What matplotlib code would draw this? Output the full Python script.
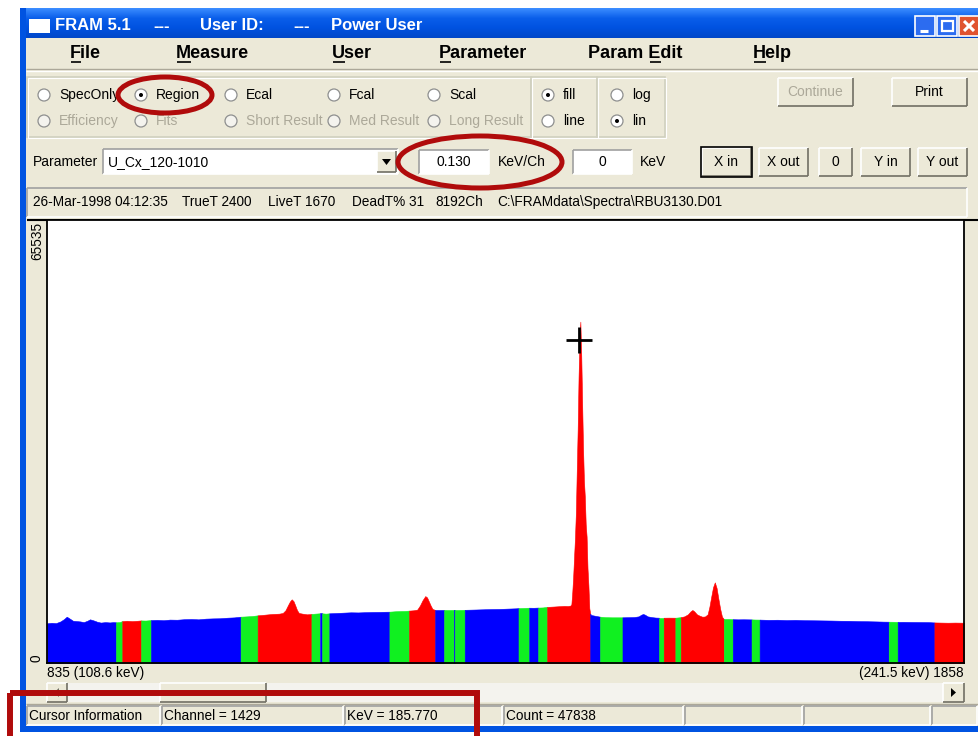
import numpy as np
import matplotlib.pyplot as plt
from matplotlib.patches import Rectangle, Ellipse, Circle, Polygon

plt.rcParams['font.family'] = ['Liberation Sans', 'DejaVu Sans']

W, H = 979, 736

# spectrum (channel, counts)
channels = [835, 840, 845, 850, 854, 857, 860, 864, 868, 872, 876, 880, 883, 887, 891, 895,
            900, 905, 909, 912, 916, 919, 924, 930, 936, 940, 945, 951, 958, 965, 972, 980,
            988, 996, 1004, 1012, 1020, 1028, 1036, 1044, 1051, 1058, 1064, 1070, 1078, 1086,
            1094, 1098, 1101, 1104, 1106, 1108, 1110, 1112, 1114, 1116, 1120, 1125, 1130, 1134,
            1139, 1142, 1146, 1150, 1158, 1166, 1174, 1182, 1190, 1198, 1206, 1212, 1217, 1223,
            1230, 1234, 1239, 1244, 1248, 1251, 1254, 1257, 1259, 1261, 1263, 1265, 1268, 1273,
            1278, 1283, 1289, 1290, 1295, 1301, 1310, 1320, 1330, 1340, 1350, 1358, 1361, 1367,
            1373, 1378, 1383, 1388, 1393, 1400, 1406, 1412, 1416, 1419, 1420, 1421, 1422, 1423,
            1424, 1425, 1426, 1427, 1428, 1429, 1430, 1431, 1432, 1433, 1434, 1435, 1436, 1437,
            1438, 1439, 1440, 1441, 1442, 1446, 1452, 1458, 1465, 1471, 1477, 1484, 1490, 1495,
            1498, 1500, 1502, 1505, 1510, 1514, 1518, 1523, 1529, 1536, 1542, 1546, 1550, 1553,
            1555, 1557, 1560, 1563, 1566, 1569, 1572, 1574, 1576, 1578, 1580, 1582, 1584, 1586,
            1588, 1590, 1595, 1600, 1606, 1612, 1621, 1625, 1630, 1640, 1650, 1660, 1670, 1680,
            1690, 1700, 1710, 1720, 1730, 1740, 1750, 1760, 1768, 1774, 1779, 1784, 1790, 1800,
            1810, 1818, 1825, 1832, 1840, 1848, 1858]
counts = [5870, 5950, 5900, 6150, 6500, 6850, 6600, 6250, 6200, 6150, 6050, 6250, 6460, 6300, 6100, 5980,
          6050, 6000, 6050, 6020, 6050, 6200, 6250, 6200, 6250, 6300, 6280, 6350, 6380, 6330, 6420, 6400,
          6480, 6510, 6460, 6560, 6600, 6620, 6700, 6750, 6850, 6900, 6950, 7050, 7150, 7250,
          7300, 7400, 7800, 8600, 9100, 9420, 9150, 8500, 7800, 7400, 7300, 7200, 7250, 7300,
          7350, 7350, 7300, 7350, 7400, 7450, 7500, 7480, 7520, 7550, 7560, 7580, 7590, 7650,
          7690, 7700, 7750, 7800, 7900, 8500, 9300, 9900, 9700, 9100, 8500, 8000, 7850, 7840,
          7850, 7840, 7860, 7850, 7850, 7870, 7900, 7940, 7980, 8000, 8050, 8090, 8120, 8150,
          8180, 8170, 8200, 8220, 8300, 8350, 8400, 8450, 8430, 8500, 8700, 10500, 12800, 15700,
          18500, 22200, 28500, 34500, 42300, 47838, 50500, 45600, 38500, 31800, 27000, 24600, 20500, 18700,
          14000, 11500, 8100, 7300, 7100, 7000, 6850, 6780, 6760, 6760, 6760, 6780, 6800, 6900,
          7150, 7250, 7150, 6900, 6780, 6720, 6700, 6700, 6710, 6700, 6780, 6900, 7200, 7650,
          7840, 7650, 7200, 7000, 6850, 6880, 7200, 8330, 9800, 11200, 11930, 11100, 9500, 8000,
          6850, 6510, 6520, 6480, 6460, 6470, 6450, 6430, 6420, 6380, 6400, 6350, 6380, 6330,
          6320, 6300, 6280, 6250, 6240, 6200, 6180, 6150, 6120, 6110, 6100, 6080, 6090, 6070,
          6060, 6050, 6000, 5980, 5960, 5980, 5960]

# analysis regions: edges and colour code (b = background, g = ?, r = peak)
region_edges = [835, 912, 919, 940, 951, 1051, 1070, 1130, 1139, 1142, 1150, 1217, 1239, 1268,
                1278, 1289, 1290, 1301, 1361, 1373, 1383, 1393, 1441, 1452, 1477, 1518, 1523,
                1536, 1542, 1590, 1600, 1621, 1630, 1774, 1784, 1825, 1858]
region_codes = ['b', 'g', 'r', 'g', 'b', 'g', 'r', 'g', 'b', 'g', 'b', 'g', 'r', 'b', 'g', 'b',
                'g', 'b', 'g', 'b', 'g', 'r', 'b', 'g', 'b', 'g', 'r', 'g', 'r', 'g', 'b', 'g',
                'b', 'g', 'b', 'r']

cursor_channel = 1429
cursor_count = 47838
ch_lo, ch_hi = 835, 1858
y_full = 65535

menu_items = ['File', 'Measure', 'User', 'Parameter', 'Param Edit', 'Help']
menu_x = [70, 176, 332, 439, 588, 753]
info_items = ['26-Mar-1998 04:12:35', 'TrueT 2400', 'LiveT 1670', 'DeadT% 31', '8192Ch',
              'C:\\FRAMdata\\Spectra\\RBU3130.D01']
info_x = [33, 182, 268, 352, 435, 497]

BG = '#ECE9D8'
DIS = '#ACA899'
fill_colors = {'b': '#0000FF', 'g': '#10F020', 'r': '#FF0000'}

fig = plt.figure(figsize=(W / 100, H / 100), dpi=100)
ui = fig.add_axes([0, 0, 1, 1])
ui.set_xlim(0, W)
ui.set_ylim(H, 0)
ui.axis('off')


def rect(x0, y0, x1, y1, fc, ec='none', lw=0, z=1):
    ui.add_patch(Rectangle((x0, y0), x1 - x0, y1 - y0, fc=fc, ec=ec, lw=lw, zorder=z))


def line(xs, ys, c, lw=1, z=3):
    ui.plot(xs, ys, color=c, lw=lw, zorder=z, solid_capstyle='butt')


def txt(x, y, s, size=10, c='black', ha='left', weight='normal', z=5, **kw):
    ui.text(x, y, s, fontsize=size, color=c, ha=ha, va='center', fontweight=weight, zorder=z, **kw)


def raised(x0, y0, x1, y1, default=False):
    rect(x0, y0, x1, y1, BG, z=2)
    line([x0, x1], [y0, y0], 'white', 1.2)
    line([x0, x0], [y0, y1], 'white', 1.2)
    line([x0, x1], [y1, y1], '#716F64', 1.2)
    line([x1, x1], [y0, y1], '#716F64', 1.2)
    if default:
        rect(x0 - 1, y0 - 1, x1 + 1, y1 + 1, 'none', ec='black', lw=1.2, z=4)


def sunken(x0, y0, x1, y1, fc='white'):
    rect(x0, y0, x1, y1, fc, z=2)
    line([x0, x1], [y0, y0], '#A0A0A0', 1.2)
    line([x0, x0], [y0, y1], '#A0A0A0', 1.2)
    line([x0, x1], [y1, y1], 'white', 1.2)
    line([x1, x1], [y0, y1], 'white', 1.2)


def button(x0, y0, x1, y1, label, enabled=True, default=False):
    raised(x0, y0, x1, y1, default)
    txt((x0 + x1) / 2, (y0 + y1) / 2, label, c='black' if enabled else DIS, ha='center')


def radio(x, y, label, on=False, enabled=True):
    ui.add_patch(Circle((x, y), 6, fc='white' if enabled else '#F4F3EE', ec='#8E8F8F', lw=0.9, zorder=3))
    if on:
        ui.add_patch(Circle((x, y), 2, fc='black', ec='none', zorder=4))
    txt(x + 15, y, label, c='black' if enabled else DIS)


def groupbox(x0, y0, x1, y1):
    rect(x0, y0, x1, y1, 'none', ec='#D0D0BF', lw=1.2, z=2)
    rect(x0 + 1, y0 + 1, x1 + 1, y1 + 1, 'none', ec='white', lw=0.8, z=2)


# window body
rect(20, 8, W, 732, BG, z=0)
# title bar gradient
grad = np.linspace(0, 1, 30).reshape(-1, 1)
ui.imshow(grad, extent=[20, W, 38, 8], cmap=plt.matplotlib.colors.LinearSegmentedColormap.from_list(
    'xp', ['#3A8CFF', '#0A5EEA', '#0052E0', '#0147C9']), aspect='auto', zorder=1)
rect(29, 19, 50, 33, 'white', z=3)
title_parts = ['FRAM 5.1', '---', 'User ID:', '---', 'Power User']
title_x = [55, 153, 200, 293, 331]
for s, x in zip(title_parts, title_x):
    txt(x, 26, s, size=12, c='white', weight='bold')
# caption buttons
for x0, fc in [(915, '#2C6CF0'), (937, '#2C6CF0'), (959, '#E0532F')]:
    ui.add_patch(Rectangle((x0, 16), 20, 20, fc=fc, ec='white', lw=1.2, zorder=3))
line([920, 928], [31, 31], 'white', 2.2, z=4)
rect(942, 21, 953, 31, 'none', ec='white', lw=1.6, z=4)
line([964, 974], [21, 31], 'white', 2.2, z=4)
line([964, 974], [31, 21], 'white', 2.2, z=4)

# menu
underline_w = [11, 15, 13, 12, 12, 13]
for s, x, uw in zip(menu_items, menu_x, underline_w):
    txt(x, 53, s, size=13, weight='bold')
    ux = x + 61 if s == 'Param Edit' else x
    line([ux + 1, ux + uw], [62, 62], 'black', 1.2)
line([26, W], [69, 69], '#ACA899', 1)
line([26, W], [70.5, 70.5], 'white', 1)

# option groups
groupbox(27, 77, 531, 137)
groupbox(531, 77, 597, 137)
groupbox(597, 77, 665, 137)
row1 = ['SpecOnly', 'Region', 'Ecal', 'Fcal', 'Scal']
row2 = ['Efficiency', 'Fits', 'Short Result', 'Med Result', 'Long Result']
radio_x = [44, 141, 231, 334, 434]
for i, x in enumerate(radio_x):
    radio(x, 95, row1[i], on=(row1[i] == 'Region'))
    radio(x, 121, row2[i], enabled=False)
radio(548, 95, 'fill', on=True)
radio(548, 121, 'line')
radio(617, 95, 'log')
radio(617, 121, 'lin', on=True)
button(778, 78, 853, 106, 'Continue', enabled=False)
button(892, 78, 967, 106, 'Print')

# parameter row
txt(33, 162, 'Parameter')
sunken(103, 149, 398, 174)
txt(108, 162, 'U_Cx_120-1010')
raised(377, 151, 396, 172)
ui.add_patch(Polygon([[382, 159], [391, 159], [386.5, 165]], closed=True, fc='black', zorder=5))
sunken(419, 150, 489, 174)
txt(454, 162, '0.130', ha='center')
txt(498, 162, 'KeV/Ch')
sunken(573, 150, 632, 174)
txt(602, 162, '0', ha='center')
txt(640, 162, 'KeV')
for (x0, x1), s in zip([(702, 751), (759, 808), (819, 852), (861, 910), (918, 967)],
                       ['X in', 'X out', '0', 'Y in', 'Y out']):
    button(x0, 148, x1, 176, s, default=(s == 'X in'))

# info bar
sunken(27, 188, 967, 217, fc=BG)
for s, x in zip(info_items, info_x):
    txt(x, 202, s, size=9.8)

# plot frame
line([27, W], [220, 220], 'black', 1.5)
txt(37, 222, '65535', size=9.8, rotation=90, ha='center')
ui.texts[-1].set_va('top')
txt(37, 658, '0', size=9.8, rotation=90, ha='center')
txt(47, 673, '835 (108.6 keV)', size=9.8)
txt(964, 673, '(241.5 keV) 1858', size=9.8, ha='right')

# scrollbar
rect(47, 683, 964, 702, '#F4F3EE', z=1)
raised(47, 683, 67, 702)
raised(160, 683, 266, 702)
raised(943, 683, 964, 702)
ui.add_patch(Polygon([[951, 688], [951, 697], [956, 692.5]], closed=True, fc='black', zorder=5))
ui.add_patch(Polygon([[59, 688], [59, 697], [54, 692.5]], closed=True, fc='#716F64', zorder=5))

# status bar
line([26, W], [704, 704], '#ACA899', 1)
status_x = [27, 162, 345, 504, 685, 804, 932, 979]
status_txt = ['Cursor Information', 'Channel = 1429', 'KeV = 185.770', 'Count = 47838', '', '', '']
for i, s in enumerate(status_txt):
    sunken(status_x[i], 706, status_x[i + 1] - 2, 725, fc=BG)
    if s:
        txt(status_x[i] + 2, 715.5, s, size=9.8)

# blue window frame (drawn last so nothing bleeds over it)
rect(20, 8, 26, 732, '#0053E1', z=6)
rect(20, 726, W, 732, '#0053E1', z=6)

# annotations
ui.add_patch(Ellipse((165, 95), 94, 36, fc='none', ec='#B00B0B', lw=3.6, zorder=8))
ui.add_patch(Ellipse((480, 162), 164, 52, fc='none', ec='#B00B0B', lw=3.6, zorder=8))
ui.add_patch(Rectangle((10, 693), 467, 60, fc='none', ec='#B00B0B', lw=4.3, zorder=8))

# spectrum
ax = fig.add_axes([47 / W, (H - 663) / H, (964 - 47) / W, (663 - 220) / H])
ax.set_facecolor('white')
ch = np.array(channels)
ct = np.array(counts)
for i, code in enumerate(region_codes):
    a, b = region_edges[i], region_edges[i + 1]
    m = (ch >= a) & (ch <= b)
    ax.fill_between(ch[m], 0, ct[m], color=fill_colors[code], lw=0.4, ec=fill_colors[code])
ax.plot([cursor_channel], [cursor_count], marker='+', ms=19, mew=2, color='black', zorder=5)
ax.set_xlim(ch_lo, ch_hi)
ax.set_ylim(0, y_full)
ax.set_xticks([])
ax.set_yticks([])
for sp in ax.spines.values():
    sp.set_linewidth(1.3)
    sp.set_color('black')

fig.savefig('out.png', dpi=100, facecolor='white')
